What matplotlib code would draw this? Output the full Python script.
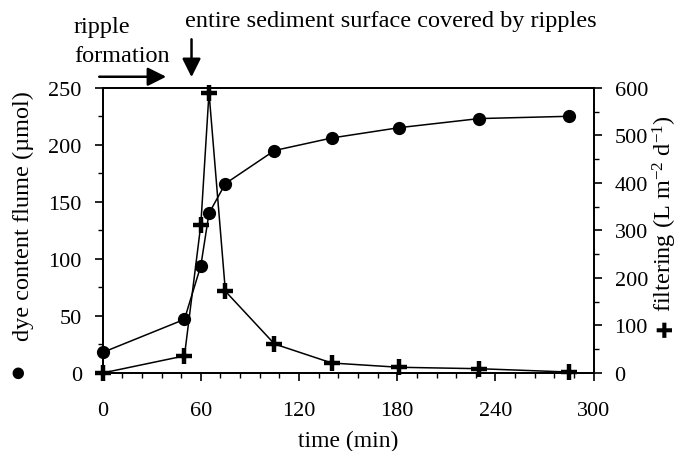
import matplotlib
matplotlib.use("Agg")
import matplotlib.pyplot as plt
from matplotlib.ticker import MultipleLocator

plt.rcParams['font.family'] = ['Liberation Serif', 'DejaVu Sans']
plt.rcParams['mathtext.fontset'] = 'custom'
plt.rcParams['mathtext.rm'] = 'Liberation Serif'
plt.rcParams['mathtext.it'] = 'Liberation Serif:italic'

# data
time_min = [0, 50, 60, 65, 75, 105, 140, 181, 230, 285]
dye_umol = [18, 47, 94, 140, 166, 195, 206, 215, 223, 225]
filtering = [0, 36, 312, 590, 172, 61, 21, 12, 9, 2]

x_ticks = [0, 60, 120, 180, 240, 300]
left_ticks = [0, 50, 100, 150, 200, 250]
right_ticks = [0, 100, 200, 300, 400, 500, 600]

fs = 16
fs_lab = 17.5
fig = plt.figure(figsize=(6.84, 4.52), dpi=100)
ax = fig.add_axes([0.150, 0.1726, 0.718, 0.631])
ax2 = ax.twinx()

ax.plot(time_min, dye_umol, color='black', lw=1.1, marker='o', ms=8.5,
        clip_on=False, zorder=3)
ax2.plot(time_min, filtering, color='black', lw=1.1, marker='+', ms=12,
         mew=3.2, clip_on=False, zorder=3)

ax.set_xlim(0, 300)
ax.set_ylim(0, 250)
ax2.set_ylim(0, 600)

ax.set_xticks(x_ticks)
ax.set_yticks(left_ticks)
ax2.set_yticks(right_ticks)
ax.xaxis.set_minor_locator(MultipleLocator(12))
ax.yaxis.set_minor_locator(MultipleLocator(25))
ax2.yaxis.set_minor_locator(MultipleLocator(50))

for a in (ax, ax2):
    for s in a.spines.values():
        s.set_linewidth(1.3)
ax.tick_params(axis='both', which='major', direction='out', length=6, width=1.2,
               labelsize=fs)
ax.tick_params(axis='both', which='minor', direction='out', length=3.5, width=1.0)
ax.tick_params(axis='y', which='major', pad=9)
ax.tick_params(axis='x', which='major', pad=14)
ax2.tick_params(axis='y', which='major', direction='out', length=6, width=1.2,
                labelsize=fs, pad=9)
ax2.tick_params(axis='y', which='minor', direction='out', length=3.5, width=1.0)

ax.set_xlabel('time (min)', fontsize=17, labelpad=7)

# left y label with filled-circle symbol
fig.text(0.034, 0.521, 'dye content flume (µmol)', rotation=90, fontsize=fs_lab,
         ha='center', va='center')
fig.text(0.026, 0.176, '●', rotation=90, fontsize=11, ha='center', va='center',
         family=['DejaVu Sans'])

# right y label with cross symbol
fig.text(0.972, 0.527, r'filtering (L m$^{\mathregular{-2}}$ d$^{\mathregular{-1}}$)',
         rotation=90, fontsize=fs_lab, ha='center', va='center')
fig.text(0.973, 0.274, '✚', rotation=90, fontsize=15, ha='center', va='center',
         family=['DejaVu Sans'])

# annotations
fig.text(0.108, 0.928, 'ripple', fontsize=fs_lab, ha='left', va='baseline')
fig.text(0.108, 0.863, 'formation', fontsize=fs_lab, ha='left', va='baseline')
fig.text(0.270, 0.940, 'entire sediment surface covered by ripples', fontsize=fs_lab,
         ha='left', va='baseline')
fig.add_artist(matplotlib.patches.FancyArrowPatch(
    (0.141, 0.828), (0.247, 0.828), transform=fig.transFigure,
    arrowstyle='-|>,head_length=0.8,head_width=0.4', mutation_scale=14,
    color='black', lw=1.8))
fig.add_artist(matplotlib.patches.FancyArrowPatch(
    (0.280, 0.917), (0.280, 0.821), transform=fig.transFigure,
    arrowstyle='-|>,head_length=0.8,head_width=0.4', mutation_scale=14,
    color='black', lw=1.8))

fig.savefig('out.png', dpi=100)
